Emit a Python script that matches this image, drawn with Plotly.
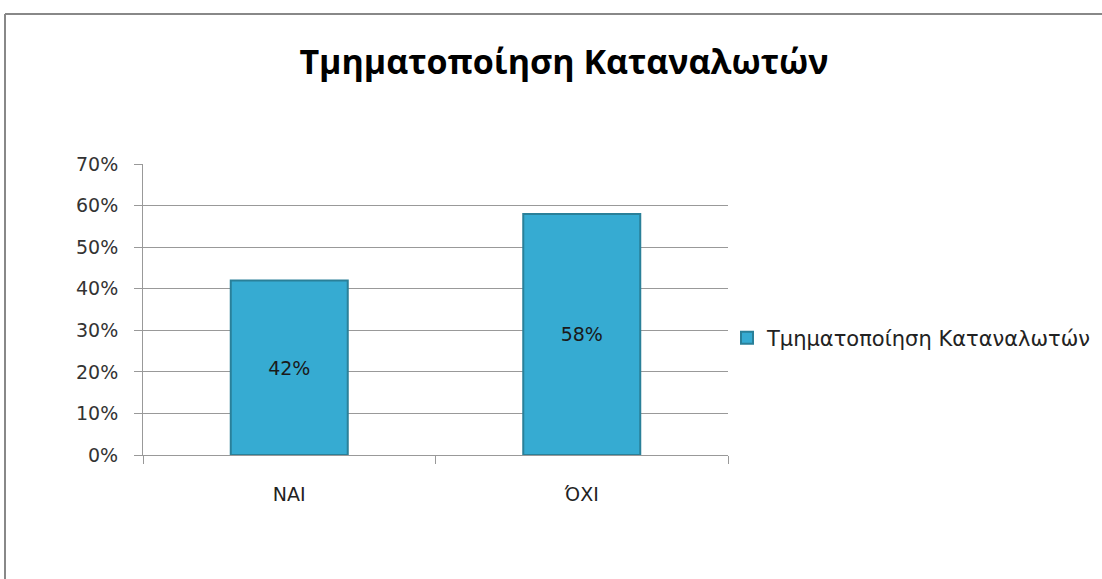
import plotly.graph_objects as go

categories = ["ΝΑΙ", "ΌΧΙ"]
values = [0.42, 0.58]
labels = ["42%", "58%"]
series_name = "Τμηματοποίηση Καταναλωτών"
title_text = "Τμηματοποίηση Καταναλωτών"
y_ticks = [0, 0.1, 0.2, 0.3, 0.4, 0.5, 0.6, 0.7]
y_ticklabels = ["0%", "10%", "20%", "30%", "40%", "50%", "60%", "70%"]

W, H = 1102, 579
L, R, T, B = 143, 728, 164, 455
pw, ph = R - L, B - T

fig = go.Figure()
fig.add_trace(go.Bar(
    x=categories, y=values, name=series_name,
    text=labels, textposition="inside", insidetextanchor="middle",
    textfont=dict(size=19, color="#1a1a1a", family="DejaVu Sans"),
    marker=dict(color="#36ABD2", line=dict(color="#2A8099", width=2)),
    showlegend=True,
))

def px_x(x):
    return (x - L) / pw

def px_y(y):
    return (B - y) / ph

fig.update_layout(
    width=W, height=H,
    margin=dict(l=L, r=W - R, t=T, b=H - B, autoexpand=False),
    paper_bgcolor="white", plot_bgcolor="white",
    bargap=0.6,
    title=dict(text="<b>" + title_text + "</b>", x=px_x(564), xref="paper", xanchor="center",
               y=1 - 62 / H, yref="container", yanchor="middle",
               font=dict(family="Open Sans", size=34, color="black")),
    legend=dict(x=px_x(727), y=px_y(338), xanchor="left", yanchor="middle",
                font=dict(family="DejaVu Sans", size=21, color="#222"),
                itemwidth=30, bgcolor="rgba(0,0,0,0)"),
    font=dict(family="DejaVu Sans", color="#333"),
    xaxis=dict(showline=True, linecolor="#999", linewidth=1,
               ticks="outside", tickson="boundaries", ticklen=8, tickcolor="#999",
               tickfont=dict(size=19, color="#222"), ticklabelstandoff=22,
               showgrid=False),
    yaxis=dict(range=[0, 0.7], tickvals=y_ticks, ticktext=y_ticklabels,
               showline=True, linecolor="#999", linewidth=1,
               ticks="outside", ticklen=8, tickcolor="#999",
               showgrid=True, gridcolor="#999", gridwidth=1,
               tickfont=dict(size=19, color="#333"), zeroline=False,
               ticklabelstandoff=12),
    shapes=[
        dict(type="line", xref="paper", yref="paper",
             x0=px_x(5), x1=px_x(5), y0=px_y(600), y1=px_y(14),
             line=dict(color="#888", width=2)),
        dict(type="line", xref="paper", yref="paper",
             x0=px_x(5), x1=px_x(1120), y0=px_y(14), y1=px_y(14),
             line=dict(color="#888", width=2)),
    ],
)

fig.write_html("out.html", config={"displayModeBar": False},
               post_script="document.body.style.margin='0';document.body.style.overflow='hidden';")
